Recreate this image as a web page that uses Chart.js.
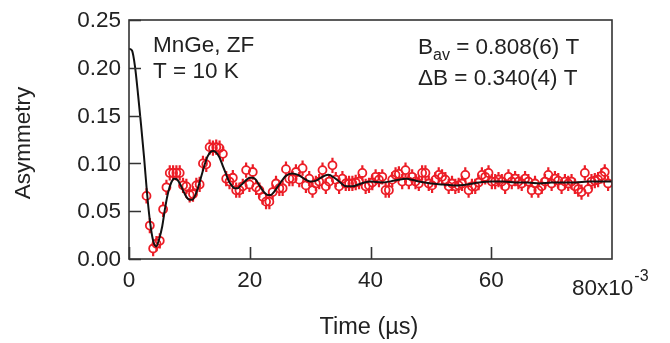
<!DOCTYPE html>
<html>
<head>
<meta charset="utf-8">
<script src="https://cdn.jsdelivr.net/npm/chart.js@4.4.0/dist/chart.umd.min.js"></script>
<style>
  html, body { margin: 0; padding: 0; background: #fff; }
  #wrap { width: 670px; height: 343px; }
</style>
</head>
<body>
<div id="wrap"><canvas id="muon-chart" width="670" height="343"></canvas></div>
<script>
// measured points (time in 10^-3 us, asymmetry)
const times = [
  2.9, 3.45, 4.0, 4.55, 5.1, 5.65, 6.2, 6.75, 7.3, 7.85, 8.4, 8.95, 9.5, 10.05, 10.6,
  11.15, 11.7, 12.25, 12.8, 13.35, 13.9, 14.45, 15.0, 15.55, 16.1, 16.65, 17.2, 17.75,
  18.3, 18.85, 19.4, 19.95, 20.5, 21.05, 21.6, 22.15, 22.7, 23.25, 23.8, 24.35, 24.9,
  25.45, 26.0, 26.55, 27.1, 27.65, 28.2, 28.75, 29.3, 29.85, 30.4, 30.95, 31.5, 32.05,
  32.6, 33.15, 33.7, 34.25, 34.8, 35.35, 35.9, 36.45, 37.0, 37.55, 38.1, 38.65, 39.2,
  39.75, 40.3, 40.85, 41.4, 41.95, 42.5, 43.05, 43.6, 44.15, 44.7, 45.25, 45.8, 46.35,
  46.9, 47.45, 48.0, 48.55, 49.1, 49.65, 50.2, 50.75, 51.3, 51.85, 52.4, 52.95, 53.5,
  54.05, 54.6, 55.15, 55.7, 56.25, 56.8, 57.35, 57.9, 58.45, 59.0, 59.55, 60.1, 60.65,
  61.2, 61.75, 62.3, 62.85, 63.4, 63.95, 64.5, 65.05, 65.6, 66.15, 66.7, 67.25, 67.8,
  68.35, 68.9, 69.45, 70.0, 70.55, 71.1, 71.65, 72.2, 72.75, 73.3, 73.85, 74.4, 74.95,
  75.5, 76.05, 76.6, 77.15, 77.7, 78.25, 78.8, 79.35
];
const asym = [
  0.066, 0.035, 0.011, 0.016, 0.019, 0.052, 0.075, 0.090, 0.090, 0.090, 0.090, 0.077, 0.076, 0.067, 0.068,
  0.077, 0.078, 0.100, 0.099, 0.117, 0.116, 0.117, 0.116, 0.110, 0.084, 0.081, 0.085, 0.072,
  0.072, 0.076, 0.093, 0.078, 0.091, 0.075, 0.072, 0.065, 0.060, 0.060, 0.070, 0.079, 0.074,
  0.074, 0.094, 0.084, 0.084, 0.091, 0.083, 0.095, 0.077, 0.084, 0.072, 0.079, 0.081, 0.093,
  0.076, 0.081, 0.098, 0.083, 0.076, 0.084, 0.079, 0.079, 0.079, 0.080, 0.081, 0.090, 0.076,
  0.077, 0.080, 0.086, 0.083, 0.086, 0.072, 0.072, 0.083, 0.088, 0.089, 0.081, 0.093, 0.081,
  0.086, 0.081, 0.079, 0.090, 0.090, 0.079, 0.077, 0.083, 0.088, 0.086, 0.083, 0.076, 0.079,
  0.076, 0.077, 0.079, 0.088, 0.072, 0.076, 0.076, 0.080, 0.088, 0.086, 0.090, 0.081, 0.081,
  0.083, 0.081, 0.076, 0.086, 0.081, 0.084, 0.081, 0.079, 0.084, 0.081, 0.072, 0.079, 0.072,
  0.076, 0.081, 0.088, 0.079, 0.084, 0.082, 0.076, 0.081, 0.079, 0.081, 0.076, 0.073, 0.070,
  0.090, 0.073, 0.081, 0.082, 0.083, 0.087, 0.091, 0.079
];
const errBar = 0.008;

// fitted curve
const fitT = [
  0, 0.5, 1, 1.5, 2, 2.5, 3, 3.5, 4, 4.5, 5, 5.5, 6, 6.5, 7, 7.5, 8, 8.5, 9, 9.5,
  10, 10.5, 11, 11.5, 12, 12.5, 13, 13.5, 14, 14.5, 15, 15.5, 16, 16.5, 17, 17.5,
  18, 18.5, 19, 19.5, 20, 20.5, 21, 21.5, 22, 22.5, 23, 23.5, 24, 25, 26, 27, 28,
  29, 30, 31, 32, 33, 34, 35, 36, 37, 38, 39, 40, 42, 44, 46, 48, 50, 52, 54, 56,
  58, 60, 62, 64, 66, 68, 70, 72, 74, 76, 78, 80
];
const fitA = [
  0.220, 0.218, 0.201, 0.172, 0.140, 0.106, 0.068, 0.038, 0.019, 0.013, 0.021, 0.034, 0.054, 0.070, 0.080, 0.084, 0.083, 0.078, 0.071, 0.065,
  0.062, 0.062, 0.067, 0.076, 0.087, 0.098, 0.107, 0.112, 0.113, 0.111, 0.106, 0.098, 0.090, 0.082, 0.077, 0.074,
  0.074, 0.077, 0.080, 0.083, 0.085, 0.085, 0.083, 0.078, 0.073, 0.069, 0.067, 0.067, 0.070, 0.079, 0.087, 0.0895, 0.088,
  0.084, 0.081, 0.082, 0.086, 0.088, 0.085, 0.080, 0.076, 0.076, 0.078, 0.080, 0.081, 0.080, 0.082, 0.084, 0.081, 0.079, 0.078, 0.077, 0.078,
  0.080, 0.081, 0.081, 0.080, 0.080, 0.079, 0.080, 0.080, 0.080, 0.081, 0.081, 0.081
];

const xTicks = [0, 20, 40, 60];
const yTicks = [0, 0.05, 0.10, 0.15, 0.20, 0.25];

const RED = '#ec1d26';
const INK = '#222';
const FONT = '22.5px "Liberation Sans", Arial, sans-serif';
const SMALL = '16px "Liberation Sans", Arial, sans-serif';

const frame = { left: 129, right: 612, top: 20, bottom: 259 };

const drawExtras = {
  id: 'drawExtras',
  beforeDatasetsDraw(chart) {
    // error bars
    const ctx = chart.ctx;
    const xs = chart.scales.x, ys = chart.scales.y;
    const r = 4;
    ctx.save();
    ctx.strokeStyle = RED;
    ctx.lineWidth = 2.2;
    ctx.beginPath();
    times.forEach((t, i) => {
      const px = xs.getPixelForValue(t);
      const py = ys.getPixelForValue(asym[i]);
      const top = ys.getPixelForValue(asym[i] + errBar);
      const bot = ys.getPixelForValue(asym[i] - errBar);
      ctx.moveTo(px, top); ctx.lineTo(px, py - r);
      ctx.moveTo(px, py + r); ctx.lineTo(px, bot);
    });
    ctx.stroke();
    ctx.restore();
  },
  afterDraw(chart) {
    const ctx = chart.ctx;
    const xs = chart.scales.x, ys = chart.scales.y;
    const a = chart.chartArea;
    ctx.save();
    // frame
    ctx.strokeStyle = '#333';
    ctx.lineWidth = 1.6;
    ctx.strokeRect(a.left, a.top, a.right - a.left, a.bottom - a.top);
    // inward ticks
    ctx.beginPath();
    yTicks.forEach(v => {
      const py = Math.round(ys.getPixelForValue(v)) + 0.5;
      ctx.moveTo(a.left, py); ctx.lineTo(a.left + 12, py);
    });
    xTicks.forEach(v => {
      const px = Math.round(xs.getPixelForValue(v)) + 0.5;
      ctx.moveTo(px, a.bottom); ctx.lineTo(px, a.bottom - 12);
    });
    ctx.stroke();

    ctx.fillStyle = INK;
    ctx.font = FONT;
    // y tick labels
    ctx.textAlign = 'right';
    ctx.textBaseline = 'middle';
    yTicks.forEach(v => {
      ctx.fillText(v.toFixed(2), a.left - 8, ys.getPixelForValue(v) + 1);
    });
    // x tick labels
    ctx.textAlign = 'center';
    xTicks.forEach(v => {
      ctx.fillText(String(v), xs.getPixelForValue(v), 281);
    });
    // last label with exponent
    ctx.textAlign = 'left';
    ctx.fillText('80x10', 572, 289);
    const w80 = ctx.measureText('80x10').width;
    ctx.font = SMALL;
    ctx.fillText('-3', 572 + w80 + 1, 277);

    // axis titles
    ctx.font = '23.5px "Liberation Sans", Arial, sans-serif';
    ctx.textAlign = 'center';
    ctx.fillText('Time (\u00b5s)', 369, 328);
    ctx.font = FONT;
    ctx.save();
    ctx.translate(24, 143);
    ctx.rotate(-Math.PI / 2);
    ctx.fillText('Asymmetry', 0, 0);
    ctx.restore();

    // annotations
    ctx.textAlign = 'left';
    ctx.fillText('MnGe, ZF', 153, 46);
    ctx.fillText('T = 10 K', 153, 72);
    ctx.fillText('B', 418, 48);
    const bw = ctx.measureText('B').width;
    ctx.font = SMALL;
    ctx.fillText('av', 418 + bw, 56);
    const aw = ctx.measureText('av').width;
    ctx.font = FONT;
    ctx.fillText(' = 0.808(6) T', 418 + bw + aw, 48);
    ctx.fillText('\u0394B = 0.340(4) T', 418, 79);
    ctx.restore();
  }
};

const ctx = document.getElementById('muon-chart').getContext('2d');
new Chart(ctx, {
  type: 'scatter',
  data: {
    datasets: [
      {
        type: 'line',
        label: 'fit',
        data: fitT.map((t, i) => ({ x: t, y: fitA[i] })),
        borderColor: '#111',
        borderWidth: 2,
        pointRadius: 0,
        cubicInterpolationMode: 'monotone',
        fill: false,
        order: 0,
      },
      {
        label: 'data',
        data: times.map((t, i) => ({ x: t, y: asym[i] })),
        borderColor: RED,
        backgroundColor: 'rgba(0,0,0,0)',
        borderWidth: 1.8,
        pointRadius: 4,
        order: 1,
      },
    ],
  },
  options: {
    responsive: false,
    animation: false,
    layout: { padding: { left: 0, top: frame.top, right: 670 - frame.right, bottom: 0 } },
    plugins: { legend: { display: false }, tooltip: { enabled: false } },
    scales: {
      x: {
        type: 'linear',
        min: 0,
        max: 80,
        grid: { display: false, drawTicks: false },
        border: { display: false },
        ticks: { display: false, stepSize: 20 },
        afterFit: (s) => { s.height = 343 - frame.bottom; },
      },
      y: {
        min: 0,
        max: 0.25,
        grid: { display: false, drawTicks: false },
        border: { display: false },
        ticks: { display: false, stepSize: 0.05 },
        afterFit: (s) => { s.width = frame.left; },
      },
    },
  },
  plugins: [drawExtras],
});
</script>
</body>
</html>
